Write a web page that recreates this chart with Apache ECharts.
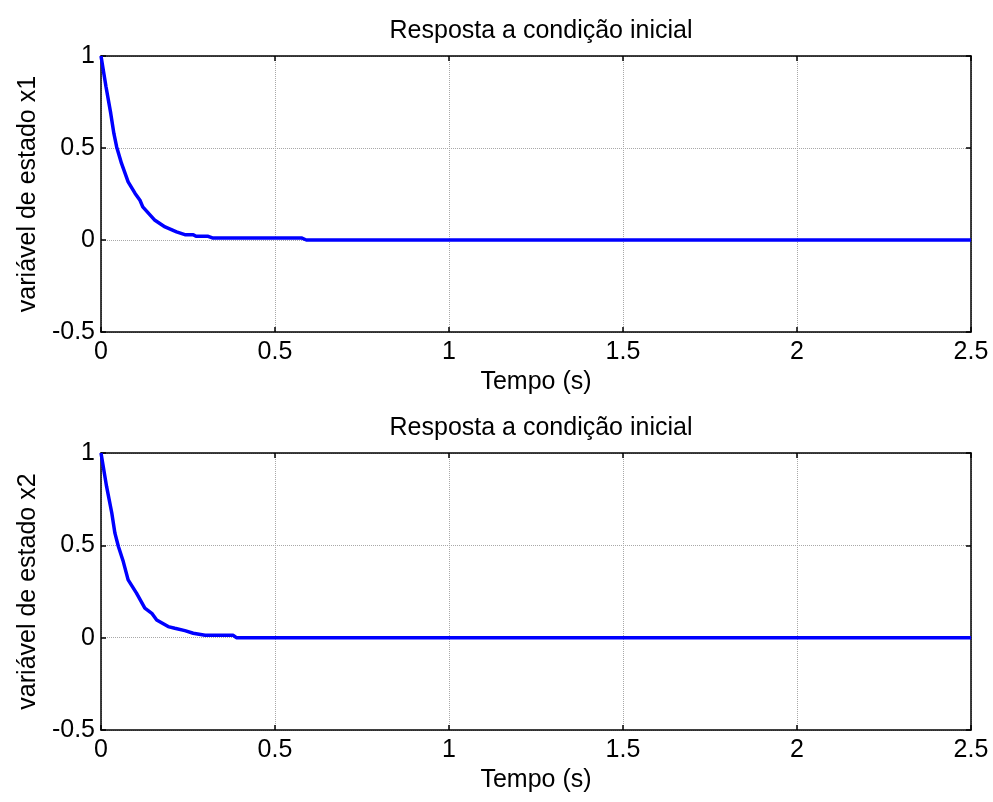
<!DOCTYPE html>
<html>
<head>
<meta charset="utf-8">
<script src="https://cdn.jsdelivr.net/npm/echarts@6/dist/echarts.min.js"></script>
<style>
html,body{margin:0;padding:0;background:#fff;}
#chart{width:993px;height:802px;}
</style>
</head>
<body>
<div id="chart"></div>
<script>
// Data
var titleText = 'Resposta a condição inicial';
var xLabel = 'Tempo (s)';
var yLabel1 = 'variável de estado x1';
var yLabel2 = 'variável de estado x2';
var xTicks = [0, 0.5, 1, 1.5, 2, 2.5];
var yTicks = [-0.5, 0, 0.5, 1];

var t1 = [0, 0.0144, 0.028, 0.037, 0.045, 0.059, 0.078, 0.098, 0.112, 0.12, 0.155, 0.184, 0.217, 0.241, 0.265, 0.273, 0.308, 0.32, 0.576, 0.59, 2.5];
var x1 = [1, 0.833, 0.688, 0.579, 0.506, 0.416, 0.316, 0.253, 0.216, 0.18, 0.107, 0.071, 0.044, 0.029, 0.029, 0.02, 0.02, 0.011, 0.011, 0, 0];

var t2 = [0, 0.016, 0.031, 0.040, 0.050, 0.064, 0.078, 0.102, 0.126, 0.146, 0.16, 0.193, 0.212, 0.241, 0.265, 0.299, 0.38, 0.389, 2.5];
var x2 = [1, 0.819, 0.675, 0.566, 0.494, 0.412, 0.313, 0.241, 0.16, 0.132, 0.096, 0.06, 0.051, 0.038, 0.024, 0.013, 0.013, 0, 0];

function pairs(t, v) { return t.map(function (x, i) { return [x, v[i]]; }); }

var FONT = 'Liberation Sans, Arial, sans-serif';
var FS = 25;
var xMin = xTicks[0], xMax = xTicks[xTicks.length - 1], xInt = xTicks[1] - xTicks[0];
var yMin = yTicks[0], yMax = yTicks[yTicks.length - 1], yInt = yTicks[1] - yTicks[0];

var axisLine = { show: true, onZero: false, lineStyle: { color: '#000', width: 1.5 } };
var tick = { show: true, inside: true, length: 5, lineStyle: { color: '#000', width: 1.5 } };
var split = { show: true, lineStyle: { color: '#a8a8a8', type: 'dotted', width: 1 } };

function xMain(g) {
  return {
    type: 'value', gridIndex: g, min: xMin, max: xMax, interval: xInt, position: 'bottom',
    axisLine: axisLine, axisTick: tick, splitLine: split,
    axisLabel: { color: '#000', fontFamily: FONT, fontSize: FS, margin: 8 },
    name: xLabel, nameLocation: 'middle', nameGap: 38,
    nameTextStyle: { color: '#000', fontFamily: FONT, fontSize: FS }
  };
}
function xTop(g) {
  return {
    type: 'value', gridIndex: g, min: xMin, max: xMax, interval: xInt, position: 'top',
    axisLine: axisLine, axisTick: tick, splitLine: { show: false }, axisLabel: { show: false }
  };
}
function yMain(g, name) {
  return {
    type: 'value', gridIndex: g, min: yMin, max: yMax, interval: yInt, position: 'left',
    axisLine: axisLine, axisTick: tick, splitLine: split,
    axisLabel: { color: '#000', fontFamily: FONT, fontSize: FS, margin: 6 },
    name: name, nameLocation: 'middle', nameGap: 60, nameRotate: 90,
    nameTextStyle: { color: '#000', fontFamily: FONT, fontSize: FS }
  };
}
function yRight(g) {
  return {
    type: 'value', gridIndex: g, min: yMin, max: yMax, interval: yInt, position: 'right',
    axisLine: axisLine, axisTick: tick, splitLine: { show: false }, axisLabel: { show: false }
  };
}

var chart = echarts.init(document.getElementById('chart'), null, { renderer: 'canvas' });
chart.setOption({
  backgroundColor: '#fff',
  animation: false,
  title: [
    { text: titleText, left: 536, top: 14, textAlign: 'center',
      textStyle: { color: '#000', fontFamily: FONT, fontSize: FS, fontWeight: 'normal' } },
    { text: titleText, left: 536, top: 411, textAlign: 'center',
      textStyle: { color: '#000', fontFamily: FONT, fontSize: FS, fontWeight: 'normal' } }
  ],
  grid: [
    { left: 101, top: 56, width: 870, height: 276 },
    { left: 101, top: 453, width: 870, height: 277 }
  ],
  xAxis: [xMain(0), xTop(0), xMain(1), xTop(1)],
  yAxis: [yMain(0, yLabel1), yRight(0), yMain(1, yLabel2), yRight(1)],
  series: [
    { type: 'line', xAxisIndex: 0, yAxisIndex: 0, data: pairs(t1, x1), showSymbol: false,
      lineStyle: { color: '#0000ff', width: 3.5 }, itemStyle: { color: '#0000ff' } },
    { type: 'line', xAxisIndex: 2, yAxisIndex: 2, data: pairs(t2, x2), showSymbol: false,
      lineStyle: { color: '#0000ff', width: 3.5 }, itemStyle: { color: '#0000ff' } }
  ]
});
</script>
</body>
</html>
